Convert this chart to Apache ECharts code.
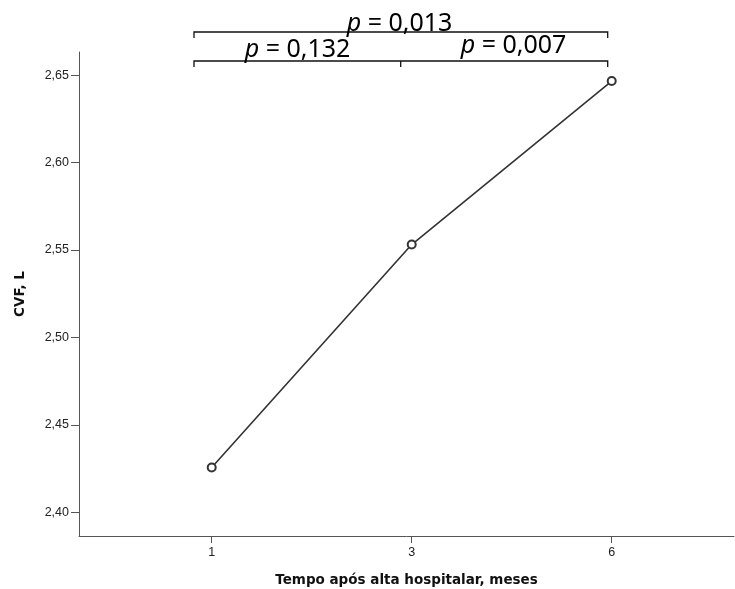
<!DOCTYPE html>
<html>
<head>
<meta charset="utf-8">
<script src="https://cdn.jsdelivr.net/npm/echarts@6/dist/echarts.min.js"></script>
<style>html,body{margin:0;padding:0;background:#fff}#c{width:735px;height:589px}</style>
</head>
<body>
<div id="c"></div>
<script>
// Data
const categories = ['1', '3', '6'];           // months after hospital discharge
const positions = [1, 2, 3];                   // equally spaced positions on x axis
const cvfValues = [2.4256, 2.5531, 2.6466];    // CVF, L
const yTicks = [2.40, 2.45, 2.50, 2.55, 2.60, 2.65];
const pLabels = ['0,013', '0,132', '0,007'];
// bracket anchors in x-axis units
const bracketX = [0.9115, 1.945, 2.98];
const pLabelX = [1.939, 1.429, 2.509];

const chart = echarts.init(document.getElementById('c'), null, {renderer: 'canvas'});
const axisCol = '#555';
const txtCol = '#222';
chart.setOption({
  animation: false,
  backgroundColor: '#fff',
  grid: {left: 79, right: 1, top: 52, bottom: 53, containLabel: false, outerBoundsMode: 'none'},
  xAxis: {
    type: 'value', min: 0.3365, max: 3.6115,
    splitLine: {show: false},
    axisLine: {show: true, lineStyle: {color: axisCol, width: 1}},
    axisTick: {show: true, length: 7, customValues: positions, lineStyle: {color: axisCol}},
    axisLabel: {customValues: positions, color: txtCol, fontFamily: 'Liberation Sans', fontSize: 12.5, margin: 10,
      formatter: v => categories[Math.round(v) - 1]},
    name: 'Tempo após alta hospitalar, meses', nameLocation: 'middle', nameGap: 37,
    nameTextStyle: {color: '#111', fontFamily: 'DejaVu Sans', fontWeight: 'bold', fontSize: 13.5}
  },
  yAxis: {
    type: 'value', min: 2.3864, max: 2.6632,
    splitLine: {show: false},
    axisLine: {show: true, lineStyle: {color: axisCol, width: 1}},
    axisTick: {show: true, length: 8, customValues: yTicks, lineStyle: {color: axisCol}},
    axisLabel: {customValues: yTicks, color: txtCol, fontFamily: 'Liberation Sans', fontSize: 12.5, margin: 10,
      formatter: v => v.toFixed(2).replace('.', ',')},
    name: 'CVF, L', nameLocation: 'middle', nameGap: 52, nameRotate: 90,
    nameTextStyle: {color: '#111', fontFamily: 'DejaVu Sans', fontWeight: 'bold', fontSize: 13.5}
  },
  series: [{
    type: 'line',
    data: positions.map((p, i) => [p, cvfValues[i]]),
    symbol: 'emptyCircle', symbolSize: 8,
    lineStyle: {color: '#333', width: 1.6},
    itemStyle: {color: '#333', borderWidth: 1.3, borderColor: '#333'}
  }]
});

const px = v => chart.convertToPixel({xAxisIndex: 0}, v);
const xl = px(bracketX[0]), xm = px(bracketX[1]), xr = px(bracketX[2]);
const brStyle = {stroke: '#111', lineWidth: 1.3, fill: null};
const textStyle = (x, y, label) => ({
  type: 'text', x: x, y: y,
  style: {
    text: '{i|p} = ' + label,
    rich: {i: {fontStyle: 'italic', fontFamily: 'Noto Sans', fontSize: 25, fill: '#000'}},
    fontFamily: 'Noto Sans', fontSize: 25, fill: '#000', align: 'center', verticalAlign: 'middle'
  }
});
chart.setOption({
  graphic: [
    {type: 'polyline', shape: {points: [[xl, 38], [xl, 32], [xr, 32], [xr, 38]]}, style: brStyle},
    {type: 'polyline', shape: {points: [[xl, 67], [xl, 61], [xr, 61], [xr, 67]]}, style: brStyle},
    {type: 'line', shape: {x1: xm, y1: 61, x2: xm, y2: 67}, style: brStyle},
    textStyle(px(pLabelX[0]), 24, pLabels[0]),
    textStyle(px(pLabelX[1]), 50, pLabels[1]),
    textStyle(px(pLabelX[2]), 46, pLabels[2])
  ]
});
</script>
</body>
</html>
